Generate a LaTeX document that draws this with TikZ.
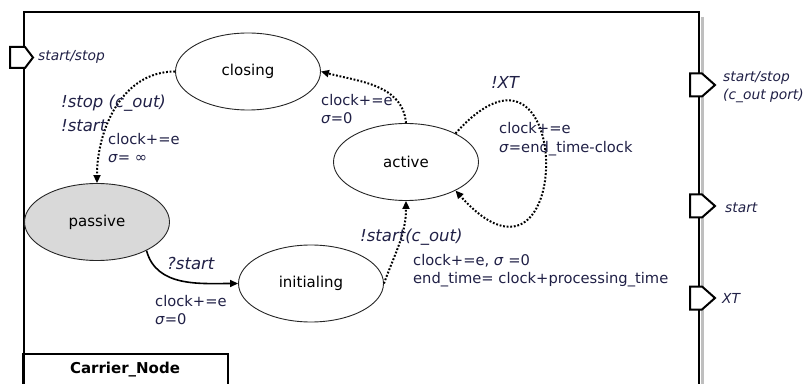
\documentclass[tikz,border=0pt]{standalone}
\usepackage{fontspec}
\setmainfont{DejaVu Sans}
\usetikzlibrary{shapes.geometric,arrows.meta}
\definecolor{labelnavy}{RGB}{32,32,70}
\definecolor{passivegray}{RGB}{217,217,217}
\tikzset{
  state/.style={ellipse, draw=black!85, line width=0.9pt, fill=white,
    minimum width=145pt, minimum height=77pt, inner sep=0pt,
    font=\fontsize{15}{18}\selectfont},
  dots/.style={line width=2pt, dash pattern=on 1.8pt off 1.8pt},
  guard/.style={font=\fontsize{16.5}{19}\itshape, text=labelnavy, inner sep=0pt},
  action/.style={font=\fontsize{14.7}{18.5}\selectfont, text=labelnavy,
    align=left, inner sep=0pt, anchor=west},
  port/.style={draw, fill=white, line width=2pt, line join=miter},
  portlabel/.style={font=\fontsize{13.8}{17.5}\itshape, text=labelnavy,
    inner sep=0pt, anchor=west, align=left},
}
\begin{document}
\begin{tikzpicture}[x=1pt, y=1pt, >={Triangle[length=8pt,width=7pt]}]
    \useasboundingbox (0,0) rectangle (808,383);

    % block frame and its shadow
    \draw[black!25, line width=3pt] (702.5,366) -- (702.5,-10);
    \draw[line width=2.2pt] (24,-10) -- (24,371) -- (699,371) -- (699,-10);
    \draw[line width=2pt] (23,-10) -- (23,29) -- (228,29) -- (228,-10);
    \node[font=\fontsize{15}{18}\bfseries] (blockname) at (125,13) {Carrier\_Node};

    % ports
    \draw[port] (10,336) -- ++(15,0) -- ++(8,-10.5) -- ++(-8,-10.5) -- ++(-15,0) -- cycle;
    \foreach \py in {298,177,85}
        \draw[port] (690,\py+11.5) -- ++(12,0) -- ++(13,-11.5) -- ++(-13,-11.5) -- ++(-12,0) -- cycle;
    \node[portlabel] (pinstop) at (38,326) {start/stop};
    \node[portlabel] (poutstop) at (723,296) {start/stop\\(c\_out port)};
    \node[portlabel] (poutstart) at (725,175) {start};
    \node[portlabel] (poutxt) at (722,85) {XT};

    % states
    \node[state] (closing) at (248,311.5) {closing};
    \node[state] (active) at (406,221) {active};
    \node[state, fill=passivegray] (passive) at (97,161) {passive};
    \node[state] (initialing) at (311,99.5) {initialing};

    % transitions
    \draw[dots,->] (closing.west) to[out=180,in=90] (passive.north);
    \draw[dots,->] (active.north) to[out=95,in=-15] (closing.east);
    \draw[dots,->] (active.30) .. controls +(120,134) and +(120,-134) .. (active.-30);
    \draw[line width=1.6pt,->] (passive.-30) to[out=-75,in=180] (initialing.west);
    \draw[dots,->] (initialing.east) to[out=70,in=-90] (active.south);

    % labels
    \node[guard, anchor=west] (stopout) at (61,280) {!stop (c\_out)};
    \node[guard, anchor=west] (startin) at (61,257) {!start};
    \node[action] (closeact) at (108,235) {clock+=e\\\textit{σ}= ∞};
    \node[action] (activeact) at (321,274) {clock+=e\\\textit{σ}=0};
    \node[guard] (xt) at (505,301) {!XT};
    \node[action] (loopact) at (499,244) {clock+=e\\\textit{σ}=end\_time-clock};
    \node[guard, anchor=west] (qstart) at (167,120) {?start};
    \node[action] (passiveact) at (155,73) {clock+=e\\\textit{σ}=0};
    \node[guard, anchor=west] (startout) at (360,146) {!start(c\_out)};
    \node[action] (initact) at (413,112.5) {clock+=e, \textit{σ} =0\\end\_time= clock+processing\_time};
\end{tikzpicture}
\end{document}
